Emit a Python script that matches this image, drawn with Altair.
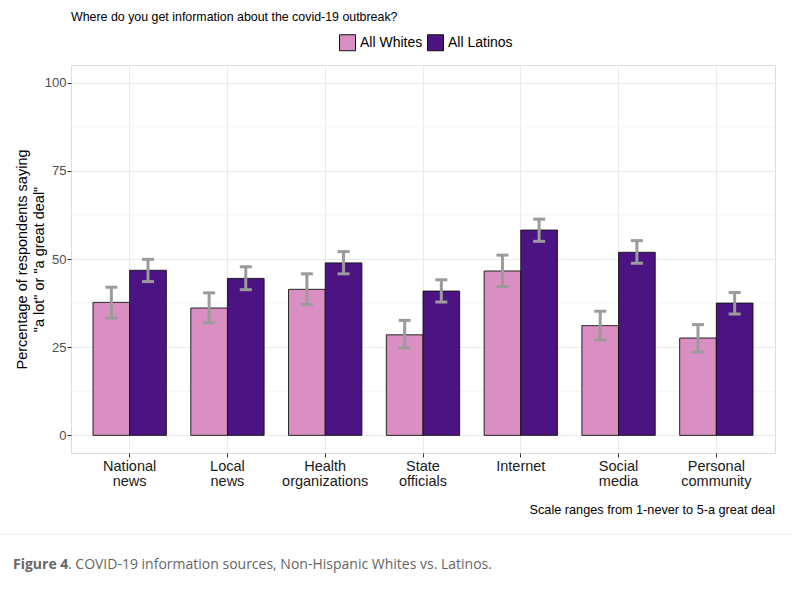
import altair as alt
import pandas as pd

categories = ["National news", "Local news", "Health organizations", "State officials",
              "Internet", "Social media", "Personal community"]
groups = ["All Whites", "All Latinos"]
whites = [37.7, 36.1, 41.4, 28.5, 46.6, 31.1, 27.6]
whites_lo = [33.3, 31.9, 37.1, 24.8, 42.2, 27.1, 23.6]
whites_hi = [42.0, 40.4, 45.8, 32.6, 51.1, 35.2, 31.4]
latinos = [46.8, 44.5, 48.9, 40.9, 58.2, 51.9, 37.5]
latinos_lo = [43.6, 41.3, 45.8, 37.8, 55.0, 48.8, 34.4]
latinos_hi = [49.9, 47.8, 52.1, 44.1, 61.3, 55.2, 40.5]
y_ticks = [0, 25, 50, 75, 100]
minor_ticks = [12.5, 37.5, 62.5, 87.5]
colors = ["#d98fc2", "#4b1482"]

title_text = "Where do you get information about the covid-19 outbreak?"
note_text = "Scale ranges from 1-never to 5-a great deal"
caption_bold = "Figure 4"
caption_rest = ". COVID-19 information sources, Non-Hispanic Whites vs. Latinos."
y_title = ["Percentage of respondents saying", '"a lot" or "a great deal"']

rows = []
for i, c in enumerate(categories):
    rows.append({"cat": c, "grp": groups[0], "val": whites[i], "lo": whites_lo[i], "hi": whites_hi[i]})
    rows.append({"cat": c, "grp": groups[1], "val": latinos[i], "lo": latinos_lo[i], "hi": latinos_hi[i]})
df = pd.DataFrame(rows)

W, H = 704, 388

xenc = alt.X("cat:N", sort=categories,
             scale=alt.Scale(paddingInner=0.25, paddingOuter=0.225),
             axis=alt.Axis(title=None, labelAngle=0, labelExpr="split(datum.label, ' ')",
                           grid=True, gridColor="#ebebeb", bandPosition=0.5, domain=False,
                           tickColor="#333333", tickSize=4, labelFontSize=14.5,
                           labelColor="#1a1a1a", labelPadding=2, labelLineHeight=15,
                           labelFont="Liberation Sans"))
xoff = alt.XOffset("grp:N", sort=groups, scale=alt.Scale(domain=groups, paddingInner=0, paddingOuter=0))
yscale = alt.Scale(domain=[-5, 105], nice=False, zero=False)
yaxis = alt.Axis(values=y_ticks, grid=True, gridColor="#ebebeb", domain=False,
                 tickColor="#333333", tickSize=4, labelFontSize=13, labelColor="#4d4d4d",
                 labelPadding=1, title=y_title, titleFontSize=14.5, titleFontWeight="normal",
                 titleColor="#000000", titleLineHeight=17, titleX=-42, titleY=H / 2,
                 titleFont="Liberation Sans", labelFont="Liberation Sans")

minor = alt.Chart(pd.DataFrame({"m": minor_ticks})).mark_rule(color="#f4f4f4", strokeWidth=1).encode(
    y=alt.Y("m:Q", scale=yscale, axis=yaxis))

bars = alt.Chart(df).mark_bar(stroke="#111111", strokeWidth=0.9).encode(
    x=xenc, xOffset=xoff,
    y=alt.Y("val:Q", scale=yscale, axis=yaxis),
    y2=alt.datum(0),
    color=alt.Color("grp:N", sort=groups, scale=alt.Scale(domain=groups, range=colors),
                    legend=alt.Legend(title=None, orient="none", legendX=268, legendY=-31,
                                      direction="horizontal", symbolType="square", symbolSize=256,
                                      symbolStrokeColor="#111111", symbolStrokeWidth=1,
                                      labelFontSize=14, labelOffset=4, columnPadding=2,
                                      labelFont="Liberation Sans", labelColor="#000000")),
)

err_rule = alt.Chart(df).mark_rule(color="#9b9b9b", strokeWidth=3).encode(
    x=alt.X("cat:N", sort=categories), xOffset=xoff,
    y=alt.Y("lo:Q", scale=yscale, axis=yaxis), y2="hi:Q")
cap_lo = alt.Chart(df).mark_tick(color="#9b9b9b", size=12, thickness=3, opacity=1).encode(
    x=alt.X("cat:N", sort=categories), xOffset=xoff, y=alt.Y("lo:Q", scale=yscale, axis=yaxis))
cap_hi = alt.Chart(df).mark_tick(color="#9b9b9b", size=12, thickness=3, opacity=1).encode(
    x=alt.X("cat:N", sort=categories), xOffset=xoff, y=alt.Y("hi:Q", scale=yscale, axis=yaxis))

def txt(t, x, y, **kw):
    return alt.Chart(pd.DataFrame({"t": [t]})).mark_text(**kw).encode(
        text="t:N", x=alt.value(x), y=alt.value(y))

title = txt(title_text, 0, -48, align="left", baseline="middle", fontSize=12.4,
            font="Liberation Sans", color="#000000")
note = txt(note_text, W, 445, align="right", baseline="middle", fontSize=12.7,
           font="Liberation Sans", color="#000000")
cap1 = txt(caption_bold, -58, 500, align="left", baseline="middle", fontSize=14,
           font="Open Sans", fontWeight="bold", color="#666666")
cap2 = txt(caption_rest, -3, 500, align="left", baseline="middle", fontSize=14,
           font="Open Sans", color="#666666")
sep = alt.Chart(pd.DataFrame({"a": [0]})).mark_rule(color="#e8e8e8", strokeWidth=1).encode(
    x=alt.value(-71), x2=alt.value(W + 17), y=alt.value(469))

chart = alt.layer(minor, bars, err_rule, cap_lo, cap_hi, title, note, cap1, cap2, sep).resolve_scale(
    y="shared").properties(
    width=W, height=H, autosize=alt.AutoSizeParams(type="none"),
    padding={"left": 71, "top": 65, "right": 17, "bottom": 137},
    background="white",
).configure_view(stroke="#808080", strokeWidth=1).configure(font="Liberation Sans")

chart.save("out.html", embed_options={"renderer": "svg", "actions": False})
